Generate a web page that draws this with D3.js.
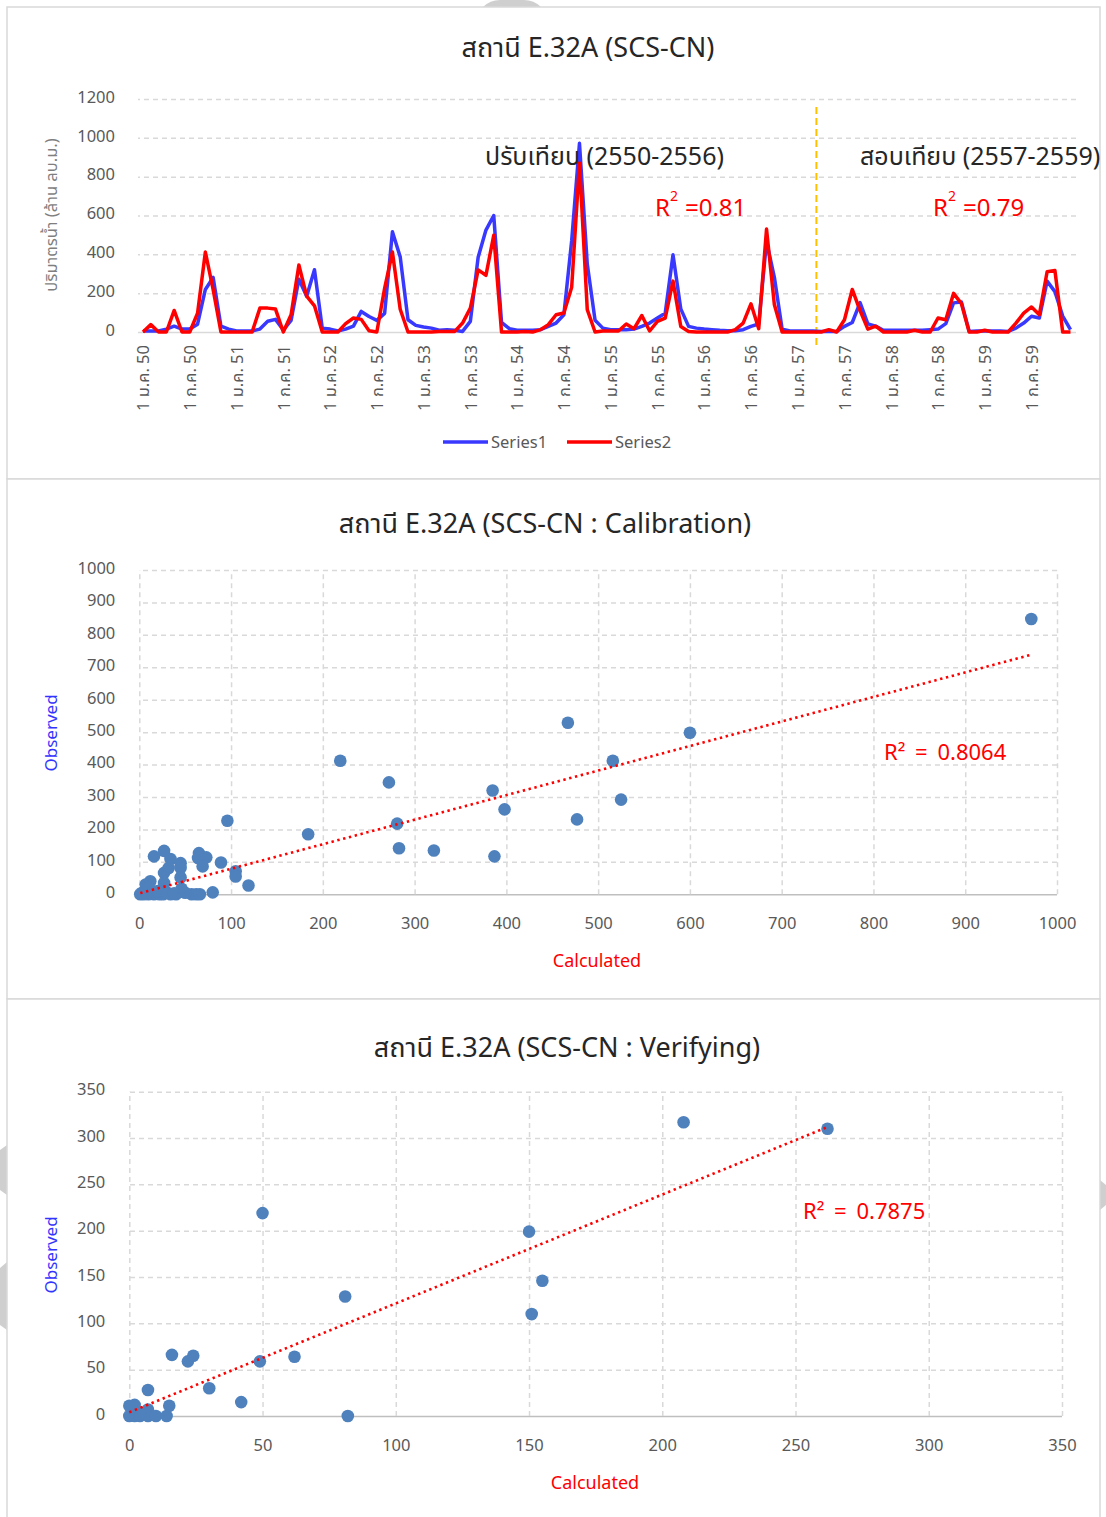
<!DOCTYPE html>
<html>
<head>
<meta charset="utf-8">
<script src="https://cdn.jsdelivr.net/npm/d3@7"></script>
<style>
  body { margin: 0; background: #fff; }
  svg text { font-family: "Noto Sans", "Noto Sans Thai", "Open Sans", sans-serif; }
</style>
</head>
<body>
<svg id="chart" width="1106" height="1517"></svg>
<script>
// ---------------- DATA ----------------
const seriesNames = ["Series1", "Series2"];
// monthly volumes Jan 2550 .. Dec 2559 (million m3)
const series1 = [
  5,5,5,15,30,15,15,40,219,281,
  30,15,5,5,5,15,55,65,10,60,
  272,184,321,20,15,5,15,30,106,80,
  60,96,516,387,63,34,26,20,9,12,
  9,3,55,385,525,600,50,17,9,9,
  9,12,29,46,89,470,972,350,60,20,
  12,12,12,15,29,46,72,97,398,119,
  29,20,15,12,9,7,7,12,29,41,
  467,283,15,5,5,5,5,3,3,3,
  29,49,151,42,30,9,9,9,9,9,
  9,12,15,43,150,155,3,5,5,5,
  5,3,20,46,81,72,262,208,82,12
];
const series2 = [
  0,38,0,0,111,0,0,97,412,218,
  0,0,0,0,0,123,123,118,0,89,
  345,185,135,0,0,0,43,72,65,6,
  0,225,412,117,0,0,0,0,3,3,
  3,46,123,320,292,498,0,0,0,3,
  0,12,38,89,98,231,870,115,0,5,
  5,5,41,17,85,5,55,72,262,28,
  3,0,0,0,0,0,12,46,145,17,
  530,142,0,0,0,0,0,0,12,0,
  63,219,110,15,30,0,0,0,0,9,
  0,0,72,63,199,146,0,0,9,0,
  0,0,46,97,129,89,310,317,0,0
];
const monthTickLabels = [
  "1 ม.ค. 50","1 ก.ค. 50","1 ม.ค. 51","1 ก.ค. 51","1 ม.ค. 52","1 ก.ค. 52",
  "1 ม.ค. 53","1 ก.ค. 53","1 ม.ค. 54","1 ก.ค. 54","1 ม.ค. 55","1 ก.ค. 55",
  "1 ม.ค. 56","1 ก.ค. 56","1 ม.ค. 57","1 ก.ค. 57","1 ม.ค. 58","1 ก.ค. 58",
  "1 ม.ค. 59","1 ก.ค. 59"
];
const flowTicks = [0,200,400,600,800,1000,1200];
const splitMonth = 86.4; // boundary calibration / verification (Apr 2557)

const calCalculated = [972,467,600,516,525,477,219,272,385,398,281,283,321,387,184,96,89,105,105,119,80,
  16,27,34,45,45,27,32,45,27,12,7,65,73,64,69,46,1,5,10,16,22,26,34,40,57,62,66,3,8,14,20,30,38,10,50];
const calObserved = [849,529,498,412,292,231,412,345,320,262,218,142,135,117,185,227,98,71,55,27,6,
  117,134,109,96,81,66,81,52,35,40,30,127,114,112,86,17,0,0,0,0,0,0,0,0,0,0,0,5,8,4,10,6,3,20,5];
const calTicks = [0,100,200,300,400,500,600,700,800,900,1000];
const calTrend = { slope: 0.757, intercept: 3, xMin: 1, xMax: 972 };
const calR2 = "R² = 0.8064";

const verCalculated = [208,262,50,150,155,151,81,49,62,16,22,24,30,7,42,82,15,0,2,7,0,2,4,7,10,14,4];
const verObserved = [317,310,219,199,146,110,129,59,64,66,59,65,30,28,15,0,11,11,12,7,0,0,0,0,0,0,3];
const verTicks = [0,50,100,150,200,250,300,350];
const verTrend = { slope: 1.175, intercept: 4, xMin: 0, xMax: 262 };
const verR2 = "R² = 0.7875";

// ---------------- STYLE ----------------
const C = {
  grid: "#d9d9d9", tick: "#595959", title: "#262626",
  blue: "#3838ff", red: "#ff0000", dot: "#4f81bd", orange: "#ffc000"
};

const svg = d3.select("#chart");

// background decorations / panel frames
svg.append("path").attr("d", "M483,7 Q490,0 500,0 L524,0 Q534,0 541,7 Z").attr("fill", "#cfcfcf");
svg.append("path").attr("d", "M0,1150 L7,1145 L7,1195 L0,1190 Z").attr("fill", "#cfcfcf");
svg.append("path").attr("d", "M0,1268 L7,1262 L7,1330 L0,1325 Z").attr("fill", "#cfcfcf");
svg.append("path").attr("d", "M1100,1180 L1106,1185 L1106,1205 L1100,1210 Z").attr("fill", "#cfcfcf");
[[7,7,1093,472],[7,479,1093,520],[7,999,1093,530]].forEach(([x,y,w,h]) => {
  svg.append("rect").attr("x", x).attr("y", y).attr("width", w).attr("height", h)
    .attr("fill", "#fff").attr("stroke", "#d9d9d9").attr("stroke-width", 1.5);
});

function title(text, cx, cy) {
  svg.append("text").attr("x", cx).attr("y", cy).attr("text-anchor", "middle")
    .attr("font-size", 27).attr("fill", C.title).text(text);
}

// ================= CHART 1: time series =================
{
  const x = d3.scaleLinear().domain([0, series1.length - 1]).range([143, 1070.5]);
  const y = d3.scaleLinear().domain([0, 1200]).range([332, 99]);
  title("สถานี E.32A (SCS-CN)", 588, 57);

  const gy = svg.append("g").attr("transform", "translate(1076,0)")
    .call(d3.axisLeft(y).tickValues(flowTicks).tickSize(938).tickPadding(23).tickFormat(d3.format("d")));
  gy.select(".domain").remove();
  gy.selectAll(".tick line").attr("stroke", C.grid).attr("stroke-width", 1.5)
    .attr("stroke-dasharray", d => d === 0 ? null : "5,4");
  gy.selectAll(".tick text").attr("fill", C.tick).attr("font-size", 16.5).attr("y", -2);

  const gx = svg.append("g").attr("transform", "translate(0,332)")
    .call(d3.axisBottom(x).tickValues(monthTickLabels.map((_, i) => i * 6)).tickSize(0)
      .tickFormat((d, i) => monthTickLabels[i]));
  gx.select(".domain").remove();
  gx.selectAll(".tick text").attr("fill", C.tick).attr("font-size", 16.5)
    .attr("transform", "rotate(-90)").attr("text-anchor", "end")
    .attr("x", -13).attr("y", 0).attr("dy", "0.35em");

  svg.append("text").attr("transform", "translate(57,215) rotate(-90)")
    .attr("text-anchor", "middle").attr("font-size", 16.5).attr("fill", "#7f7f7f")
    .text("ปริมาตรน้ำ (ล้าน ลบ.ม.)");

  // split line
  svg.append("line").attr("x1", x(splitMonth)).attr("x2", x(splitMonth))
    .attr("y1", 107).attr("y2", 348).attr("stroke", C.orange).attr("stroke-width", 2)
    .attr("stroke-dasharray", "7,4");

  const line = d3.line().x((d, i) => x(i)).y(d => y(d));
  svg.append("path").datum(series1).attr("d", line).attr("fill", "none")
    .attr("stroke", C.blue).attr("stroke-width", 3.5).attr("stroke-linejoin", "round");
  svg.append("path").datum(series2).attr("d", line).attr("fill", "none")
    .attr("stroke", C.red).attr("stroke-width", 3.5).attr("stroke-linejoin", "round");

  // annotations
  svg.append("text").attr("x", 485).attr("y", 165).attr("font-size", 25).attr("fill", "#262626")
    .text("ปรับเทียบ (2550-2556)");
  svg.append("text").attr("x", 860).attr("y", 165).attr("font-size", 25).attr("fill", "#262626")
    .text("สอบเทียบ (2557-2559)");
  function r2(xPos, val) {
    const t = svg.append("text").attr("x", xPos).attr("y", 216).attr("font-size", 24).attr("fill", C.red);
    t.append("tspan").text("R");
    t.append("tspan").attr("dy", -15).attr("font-size", 14).text("2");
    t.append("tspan").attr("dy", 15).attr("dx", 7).text("=" + val);
  }
  r2(655, "0.81");
  r2(933, "0.79");

  // legend
  const lg = [[443, C.blue, seriesNames[0]], [567, C.red, seriesNames[1]]];
  lg.forEach(([lx, col, name]) => {
    svg.append("line").attr("x1", lx).attr("x2", lx + 45).attr("y1", 442).attr("y2", 442)
      .attr("stroke", col).attr("stroke-width", 3.5);
    svg.append("text").attr("x", lx + 48).attr("y", 447.5).attr("font-size", 16.5)
      .attr("fill", C.tick).text(name);
  });
}

// ================= scatter helper =================
function scatter(opt) {
  const x = d3.scaleLinear().domain(opt.domain).range([opt.left, opt.right]);
  const y = d3.scaleLinear().domain(opt.domain).range([opt.bottom, opt.top]);
  title(opt.title, opt.titleX, opt.titleY);

  // horizontal grid + y labels
  const gy = svg.append("g").attr("transform", `translate(${opt.right},0)`)
    .call(d3.axisLeft(y).tickValues(opt.ticks).tickSize(opt.right - opt.left)
      .tickPadding(opt.yLabelPad).tickFormat(d3.format("d")));
  gy.select(".domain").remove();
  gy.selectAll(".tick line").attr("stroke-width", 1.5)
    .attr("stroke-dasharray", d => d === 0 ? null : "5,4")
    .attr("stroke", d => d === 0 ? "#bfbfbf" : C.grid);
  gy.selectAll(".tick text").attr("fill", C.tick).attr("font-size", 16.5).attr("y", -2);

  // vertical grid + x labels
  const gx = svg.append("g").attr("transform", `translate(0,${opt.bottom})`)
    .call(d3.axisTop(x).tickValues(opt.ticks).tickSize(opt.bottom - opt.top).tickFormat(d3.format("d")));
  gx.select(".domain").remove();
  gx.selectAll(".tick line").attr("stroke", C.grid).attr("stroke-width", 1.5).attr("stroke-dasharray", "5,4");
  gx.selectAll(".tick text").attr("fill", C.tick).attr("font-size", 16.5)
    .attr("y", opt.xLabelDy).attr("dy", "0.35em");

  // points
  svg.append("g").selectAll("circle").data(opt.xs.map((v, i) => [v, opt.ys[i]]))
    .join("circle").attr("cx", d => x(d[0])).attr("cy", d => y(d[1])).attr("r", 6.3)
    .attr("fill", C.dot);

  // trendline
  const t = opt.trend;
  svg.append("line")
    .attr("x1", x(t.xMin)).attr("y1", y(t.intercept + t.slope * t.xMin))
    .attr("x2", x(t.xMax)).attr("y2", y(t.intercept + t.slope * t.xMax))
    .attr("stroke", C.red).attr("stroke-width", 2.6).attr("stroke-dasharray", "2.4,3.6");

  svg.append("text").attr("x", opt.r2x).attr("y", opt.r2y).attr("font-size", 22)
    .attr("fill", C.red).attr("word-spacing", 4).text(opt.r2);

  svg.append("text").attr("x", opt.xTitleX).attr("y", opt.xTitleY).attr("text-anchor", "middle")
    .attr("font-size", 18).attr("fill", C.red).text("Calculated");
  svg.append("text").attr("transform", `translate(57,${opt.yTitleY}) rotate(-90)`)
    .attr("text-anchor", "middle").attr("font-size", 17).attr("fill", "#3333ff").text("Observed");
}

scatter({
  title: "สถานี E.32A (SCS-CN : Calibration)", titleX: 545, titleY: 533,
  domain: [0, 1000], ticks: calTicks,
  left: 139.3, right: 1057, top: 570, bottom: 894.3,
  yLabelPad: 24, xLabelDy: 29,
  xs: calCalculated, ys: calObserved, trend: calTrend,
  r2: calR2, r2x: 884, r2y: 760,
  xTitleX: 597, xTitleY: 967, yTitleY: 733
});

scatter({
  title: "สถานี E.32A (SCS-CN : Verifying)", titleX: 567, titleY: 1057,
  domain: [0, 350], ticks: verTicks,
  left: 129.3, right: 1062, top: 1091.7, bottom: 1416,
  yLabelPad: 24, xLabelDy: 29,
  xs: verCalculated, ys: verObserved, trend: verTrend,
  r2: verR2, r2x: 803, r2y: 1219,
  xTitleX: 595, xTitleY: 1489, yTitleY: 1255
});
</script>
</body>
</html>
